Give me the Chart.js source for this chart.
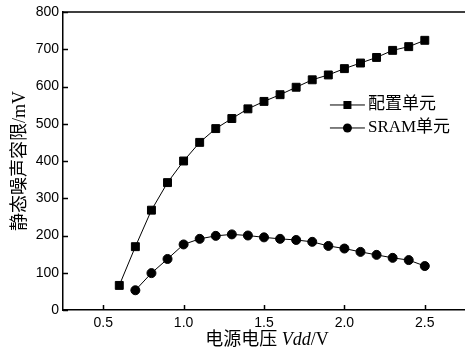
<!DOCTYPE html>
<html>
<head>
<meta charset="utf-8">
<script src="https://cdn.jsdelivr.net/npm/chart.js@4.4.0/dist/chart.umd.min.js"></script>
<style>body{margin:0;background:#fff}</style>
</head>
<body>
<canvas id="myChart" width="465" height="349"></canvas>
<script>
// data
const voltsConfig = [0.6, 0.7, 0.8, 0.9, 1.0, 1.1, 1.2, 1.3, 1.4, 1.5, 1.6, 1.7, 1.8, 1.9, 2.0, 2.1, 2.2, 2.3, 2.4, 2.5];
const configMargin = [66, 170, 268, 342, 400, 450, 487, 514, 540, 560, 578, 598, 618, 631, 648, 663, 678, 697, 707, 724];
const voltsSram = [0.7, 0.8, 0.9, 1.0, 1.1, 1.2, 1.3, 1.4, 1.5, 1.6, 1.7, 1.8, 1.9, 2.0, 2.1, 2.2, 2.3, 2.4, 2.5];
const sramMargin = [53, 99, 137, 176, 191, 199, 203, 200, 195, 191, 188, 183, 172, 165, 156, 148, 140, 134, 118];
const seriesNames = ['配置单元', 'SRAM单元'];
const xTicks = [0.5, 1.0, 1.5, 2.0, 2.5];
const yTicks = [0, 100, 200, 300, 400, 500, 600, 700, 800];
const xTitle = [['电源电压 ', ''], ['Vdd', 'italic '], ['/V', '']];
const yTitle = '静态噪声容限/mV';

const serif = '"Liberation Serif", "Noto Sans CJK SC", serif';

function toPoints(xs, ys) {
  return xs.map((x, i) => ({x: x, y: ys[i]}));
}

// frame, inward ticks, titles and legend
const decorations = {
  id: 'decorations',
  afterDraw(chart) {
    const ctx = chart.ctx;
    const area = chart.chartArea;
    const xs = chart.scales.x, ys = chart.scales.y;
    ctx.save();
    ctx.strokeStyle = '#000';
    ctx.lineWidth = 1.5;
    ctx.beginPath();
    ctx.moveTo(area.left, area.top);
    ctx.lineTo(area.right, area.top);
    yTicks.forEach(v => {
      const py = Math.round(ys.getPixelForValue(v)) + 0.5;
      ctx.moveTo(area.left, py);
      ctx.lineTo(area.left + 5, py);
    });
    xTicks.forEach(v => {
      const px = Math.round(xs.getPixelForValue(v)) + 0.5;
      ctx.moveTo(px, area.bottom);
      ctx.lineTo(px, area.bottom - 5);
    });
    ctx.stroke();

    ctx.fillStyle = '#000';
    ctx.textBaseline = 'middle';

    // x title
    let widths = xTitle.map(p => { ctx.font = p[1] + '18px ' + serif; return ctx.measureText(p[0]).width; });
    let total = widths.reduce((a, b) => a + b, 0);
    let tx = (area.left + area.right) / 2 + 3 - total / 2;
    xTitle.forEach((p, i) => {
      ctx.font = p[1] + '18px ' + serif;
      ctx.textAlign = 'left';
      ctx.fillText(p[0], tx, 340);
      tx += widths[i];
    });

    // y title
    ctx.save();
    ctx.translate(20, (area.top + area.bottom) / 2);
    ctx.rotate(-Math.PI / 2);
    ctx.font = '18px ' + serif;
    ctx.textAlign = 'center';
    ctx.fillText(yTitle, 0, 0);
    ctx.restore();

    // legend
    const lx = area.left + (area.right - area.left) * 0.664;
    const ly = area.top + (area.bottom - area.top) * 0.312;
    seriesNames.forEach((name, i) => {
      const y = ly + i * 23;
      ctx.lineWidth = 1;
      ctx.beginPath();
      ctx.moveTo(lx, y);
      ctx.lineTo(lx + 35, y);
      ctx.stroke();
      ctx.beginPath();
      if (i === 0) {
        ctx.rect(lx + 13.5, y - 4, 8, 8);
      } else {
        ctx.arc(lx + 17.5, y, 4.5, 0, Math.PI * 2);
      }
      ctx.fill();
      ctx.font = '17px ' + serif;
      ctx.textAlign = 'left';
      ctx.fillText(name, lx + 38, y);
    });
    ctx.restore();
  }
};

const ctx = document.getElementById('myChart').getContext('2d');
const chart = new Chart(ctx, {
  type: 'line',
  data: {
    datasets: [{
      label: seriesNames[0],
      data: toPoints(voltsConfig, configMargin),
      borderColor: '#000',
      backgroundColor: '#000',
      borderWidth: 1,
      pointStyle: 'rect',
      pointRadius: 5.6,
      tension: 0
    }, {
      label: seriesNames[1],
      data: toPoints(voltsSram, sramMargin),
      borderColor: '#000',
      backgroundColor: '#000',
      borderWidth: 1,
      pointStyle: 'circle',
      pointRadius: 4.5,
      tension: 0
    }]
  },
  options: {
    responsive: false,
    animation: false,
    layout: {autoPadding: false, padding: {top: 12, right: 0, left: 0, bottom: 0}},
    plugins: {legend: {display: false}, tooltip: {enabled: false}},
    scales: {
      x: {
        type: 'linear',
        min: 0.25,
        max: 2.75,
        afterBuildTicks: s => { s.ticks = xTicks.map(v => ({value: v})); },
        afterFit: s => { s.height = 39; s.paddingLeft = 0; s.paddingRight = 0; },
        grid: {drawOnChartArea: false, drawTicks: false},
        border: {display: true, color: '#000', width: 1.5},
        ticks: {
          padding: 5,
          color: '#000',
          font: {family: '"Liberation Sans", Arial, sans-serif', size: 14},
          callback: v => v.toFixed(1)
        }
      },
      y: {
        min: 0,
        max: 800,
        afterBuildTicks: s => { s.ticks = yTicks.map(v => ({value: v})); },
        afterFit: s => { s.width = 63; s.paddingTop = 0; s.paddingBottom = 0; },
        grid: {drawOnChartArea: false, drawTicks: false},
        border: {display: true, color: '#000', width: 1.5},
        ticks: {
          padding: 4,
          color: '#000',
          font: {family: '"Liberation Sans", Arial, sans-serif', size: 14}
        }
      }
    }
  },
  plugins: [decorations]
});
</script>
</body>
</html>
